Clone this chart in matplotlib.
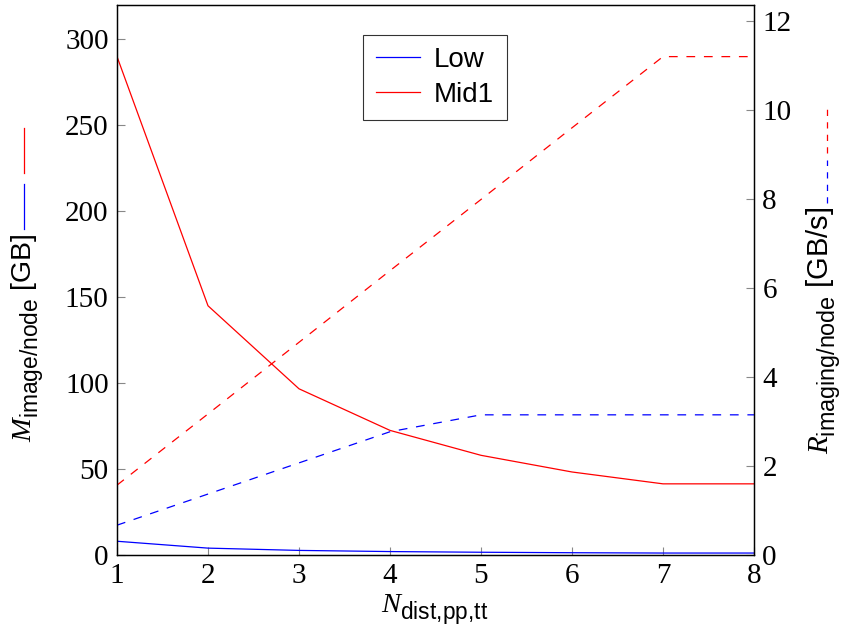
import matplotlib
matplotlib.use("Agg")
import matplotlib.pyplot as plt
from matplotlib.lines import Line2D
import matplotlib._mathtext as _mt

_mt.SHRINK_FACTOR = 0.8
_mt.FontConstantsBase.sub1 = 0.55
_mt.FontConstantsBase.sub2 = 0.7

plt.rcParams['mathtext.fontset'] = 'custom'
plt.rcParams['mathtext.it'] = 'Liberation Serif:italic'
plt.rcParams['mathtext.rm'] = 'Liberation Sans'
plt.rcParams['mathtext.sf'] = 'Liberation Sans'

n_dist = [1, 2, 3, 4, 5, 6, 7, 8]
mem_low = [8.0, 4.0, 2.67, 2.0, 1.6, 1.33, 1.14, 1.14]
mem_mid1 = [290, 145, 96.7, 72.5, 58, 48.3, 41.4, 41.4]
rate_low = [0.67, 1.37, 2.07, 2.77, 3.15, 3.15, 3.15, 3.15]
rate_mid1 = [1.57, 3.17, 4.78, 6.39, 7.99, 9.6, 11.2, 11.2]
series_names = ["Low", "Mid1"]
left_ticks = [0, 50, 100, 150, 200, 250, 300]
right_ticks = [0, 2, 4, 6, 8, 10, 12]

W, H = 845, 642
fig = plt.figure(figsize=(W / 100, H / 100), dpi=100)
ax = fig.add_axes([117 / W, 1 - 555 / H, (754 - 117) / W, (555 - 5) / H])
ax2 = ax.twinx()

lw = 0.9
dash = (7, 7)
l1, = ax.plot(n_dist, mem_low, color='blue', lw=lw, label=series_names[0])
l2, = ax.plot(n_dist, mem_mid1, color='red', lw=lw, label=series_names[1])
ax2.plot(n_dist, rate_low, color='blue', lw=lw, dashes=dash)
ax2.plot(n_dist, rate_mid1, color='red', lw=lw, dashes=dash)

ax.set_xlim(1, 8)
ax.set_ylim(0, 320)
ax2.set_ylim(0, 12.36)
ax.set_xticks(n_dist)
ax.set_yticks(left_ticks)
ax2.set_yticks(right_ticks)

tickfont = 'Liberation Serif'
tfs = 21
lfs = 20.5
for a in (ax, ax2):
    a.tick_params(direction='in', length=6, width=0.8, color='#888888',
                  labelsize=tfs, pad=6)
    for lab in a.get_xticklabels() + a.get_yticklabels():
        lab.set_fontfamily(tickfont)
    for s in a.spines.values():
        s.set_linewidth(0.9)

fig.text(435 / W, 1 - 610 / H, r'$N_{\mathrm{dist{,}pp{,}tt}}$', fontsize=lfs,
         family='Liberation Sans', ha='center', va='center')
fig.text(28 / W, 1 - 338 / H, r'$M_{\mathrm{image/node}}$ [GB]', fontsize=lfs,
         family='Liberation Sans', ha='center', va='center', rotation=90)
fig.text(824 / W, 1 - 330 / H, r'$R_{\mathrm{imaging/node}}$ [GB/s]', fontsize=21,
         family='Liberation Sans', ha='center', va='center', rotation=90)

# legend-sample lines inside axis labels
def fig_line(x, y0, y1, color, dashed=False):
    ln = Line2D([x / W, x / W], [1 - y0 / H, 1 - y1 / H], transform=fig.transFigure,
                color=color, lw=lw)
    if dashed:
        ln.set_dashes((5, 5))
    fig.add_artist(ln)

fig_line(24, 229, 184, 'blue')
fig_line(24, 173, 128, 'red')
fig_line(827, 203, 160, 'blue', dashed=True)
fig_line(827, 153, 108, 'red', dashed=True)

leg = ax.legend(handles=[l1, l2], loc='upper center', bbox_to_anchor=(0.499, 0.946),
                prop={'family': 'Liberation Sans', 'size': 20}, frameon=True,
                fancybox=False, edgecolor='black', handlelength=1.6, borderpad=0.45,
                labelspacing=0.3, handletextpad=0.5, borderaxespad=0)
leg.get_frame().set_linewidth(0.8)

fig.savefig('out.png', dpi=100)
